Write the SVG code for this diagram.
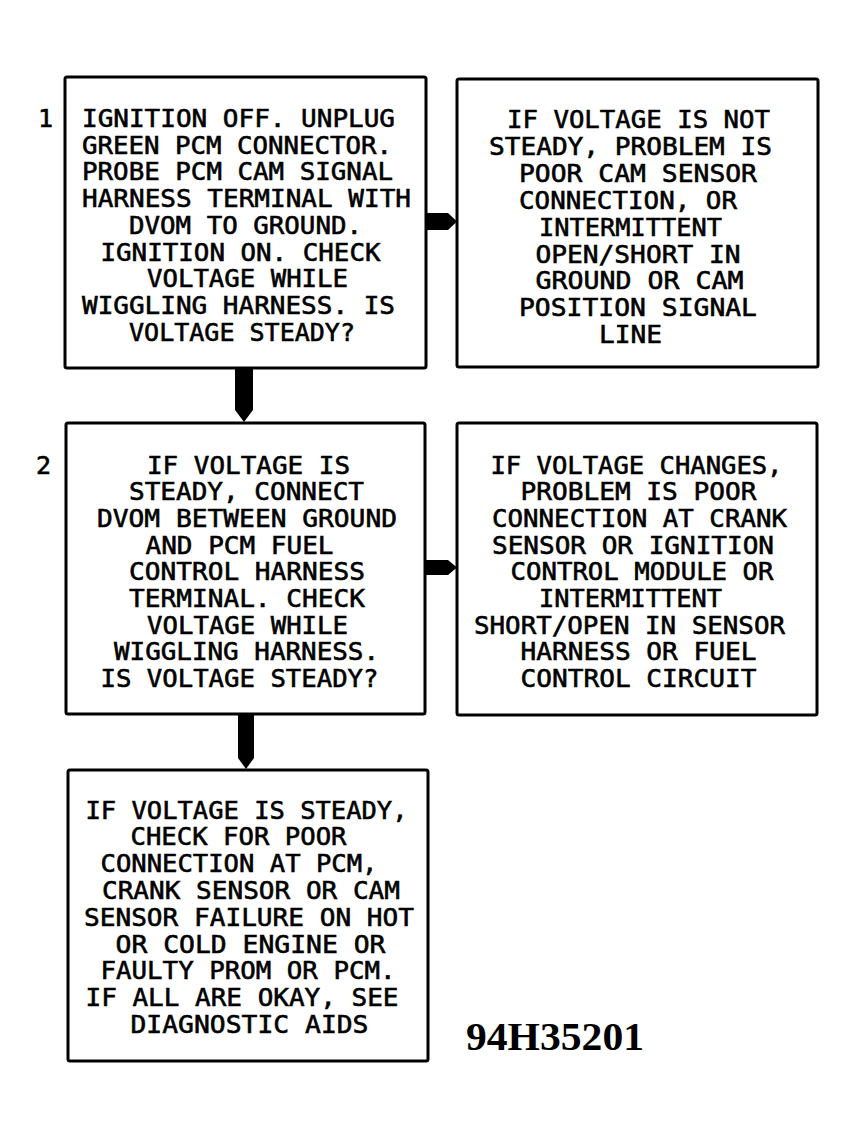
<svg xmlns="http://www.w3.org/2000/svg" width="857" height="1138" viewBox="0 0 857 1138">
<style>
.box{fill:#fff;stroke:#000;stroke-width:3}
.t{font-family:"DejaVu Sans Mono","Liberation Mono",monospace;font-size:25px;fill:#000;stroke:#000;stroke-width:0.6}
.n{font-family:"DejaVu Sans Mono","Liberation Mono",monospace;font-size:25px;fill:#000;stroke:#000;stroke-width:0.6}
.code{font-family:"Liberation Serif","Times New Roman",serif;font-weight:bold;font-size:40px;fill:#000}
.arr{fill:#000;stroke:none}
</style>
<rect width="857" height="1138" fill="#fff"/>
<g id="connectors">
<path class="arr" d="M425,213 H448 L457,221.5 L448,230 H425 Z"/>
<path class="arr" d="M425,560 H448 L457,567.5 L448,575 H425 Z"/>
<path class="arr" d="M235,368 V410 L244,422 L253,410 V368 Z"/>
<path class="arr" d="M238,714 V758 L246,769 L254,758 V714 Z"/>
</g>
<g id="node1">
<rect class="box" x="65" y="77" width="361" height="291" rx="2"/>
<text class="n" x="38" y="127">1</text>
<text class="t" x="82" y="127" textLength="313" lengthAdjust="spacingAndGlyphs">IGNITION OFF. UNPLUG</text>
<text class="t" x="82" y="153.7" textLength="310" lengthAdjust="spacingAndGlyphs">GREEN PCM CONNECTOR.</text>
<text class="t" x="82" y="180.4" textLength="311" lengthAdjust="spacingAndGlyphs">PROBE PCM CAM SIGNAL</text>
<text class="t" x="82" y="207.1" textLength="329" lengthAdjust="spacingAndGlyphs">HARNESS TERMINAL WITH</text>
<text class="t" x="129" y="233.8" textLength="233" lengthAdjust="spacingAndGlyphs">DVOM TO GROUND.</text>
<text class="t" x="100.5" y="260.5" textLength="280" lengthAdjust="spacingAndGlyphs">IGNITION ON. CHECK</text>
<text class="t" x="147" y="287.2" textLength="201" lengthAdjust="spacingAndGlyphs">VOLTAGE WHILE</text>
<text class="t" x="82" y="313.9" textLength="313" lengthAdjust="spacingAndGlyphs">WIGGLING HARNESS. IS</text>
<text class="t" x="129" y="340.6" textLength="226" lengthAdjust="spacingAndGlyphs">VOLTAGE STEADY?</text>
</g>
<g id="node2">
<rect class="box" x="457" y="79" width="361" height="288" rx="2"/>
<text class="t" x="507" y="128" textLength="263" lengthAdjust="spacingAndGlyphs">IF VOLTAGE IS NOT</text>
<text class="t" x="489" y="154.9" textLength="283" lengthAdjust="spacingAndGlyphs">STEADY, PROBLEM IS</text>
<text class="t" x="519" y="181.8" textLength="238" lengthAdjust="spacingAndGlyphs">POOR CAM SENSOR</text>
<text class="t" x="519" y="208.7" textLength="218" lengthAdjust="spacingAndGlyphs">CONNECTION, OR</text>
<text class="t" x="539" y="235.6" textLength="183" lengthAdjust="spacingAndGlyphs">INTERMITTENT</text>
<text class="t" x="535.5" y="262.5" textLength="205" lengthAdjust="spacingAndGlyphs">OPEN/SHORT IN</text>
<text class="t" x="535.5" y="289.4" textLength="208" lengthAdjust="spacingAndGlyphs">GROUND OR CAM</text>
<text class="t" x="519" y="316.3" textLength="238" lengthAdjust="spacingAndGlyphs">POSITION SIGNAL</text>
<text class="t" x="599" y="343.2" textLength="63" lengthAdjust="spacingAndGlyphs">LINE</text>
</g>
<g id="node3">
<rect class="box" x="66" y="423" width="359" height="291" rx="2"/>
<text class="n" x="36" y="474">2</text>
<text class="t" x="147" y="473.5" textLength="203" lengthAdjust="spacingAndGlyphs">IF VOLTAGE IS</text>
<text class="t" x="129" y="500.2" textLength="235" lengthAdjust="spacingAndGlyphs">STEADY, CONNECT</text>
<text class="t" x="97" y="526.9" textLength="300" lengthAdjust="spacingAndGlyphs">DVOM BETWEEN GROUND</text>
<text class="t" x="145.5" y="553.6" textLength="188" lengthAdjust="spacingAndGlyphs">AND PCM FUEL</text>
<text class="t" x="129" y="580.3" textLength="236" lengthAdjust="spacingAndGlyphs">CONTROL HARNESS</text>
<text class="t" x="129" y="607" textLength="236" lengthAdjust="spacingAndGlyphs">TERMINAL. CHECK</text>
<text class="t" x="147" y="633.7" textLength="201" lengthAdjust="spacingAndGlyphs">VOLTAGE WHILE</text>
<text class="t" x="114" y="660.4" textLength="265" lengthAdjust="spacingAndGlyphs">WIGGLING HARNESS.</text>
<text class="t" x="100.5" y="687.1" textLength="278" lengthAdjust="spacingAndGlyphs">IS VOLTAGE STEADY?</text>
</g>
<g id="node4">
<rect class="box" x="457" y="423" width="360" height="292" rx="2"/>
<text class="t" x="490.5" y="473.5" textLength="292" lengthAdjust="spacingAndGlyphs">IF VOLTAGE CHANGES,</text>
<text class="t" x="520.5" y="500.2" textLength="236" lengthAdjust="spacingAndGlyphs">PROBLEM IS POOR</text>
<text class="t" x="492" y="526.9" textLength="295" lengthAdjust="spacingAndGlyphs">CONNECTION AT CRANK</text>
<text class="t" x="492" y="553.6" textLength="282" lengthAdjust="spacingAndGlyphs">SENSOR OR IGNITION</text>
<text class="t" x="510.5" y="580.3" textLength="263" lengthAdjust="spacingAndGlyphs">CONTROL MODULE OR</text>
<text class="t" x="539" y="607" textLength="183" lengthAdjust="spacingAndGlyphs">INTERMITTENT</text>
<text class="t" x="474" y="633.7" textLength="311" lengthAdjust="spacingAndGlyphs">SHORT/OPEN IN SENSOR</text>
<text class="t" x="520.5" y="660.4" textLength="236" lengthAdjust="spacingAndGlyphs">HARNESS OR FUEL</text>
<text class="t" x="520.5" y="687.1" textLength="236" lengthAdjust="spacingAndGlyphs">CONTROL CIRCUIT</text>
</g>
<g id="node5">
<rect class="box" x="68" y="770" width="360" height="291" rx="2"/>
<text class="t" x="85.5" y="818.5" textLength="322" lengthAdjust="spacingAndGlyphs">IF VOLTAGE IS STEADY,</text>
<text class="t" x="130.5" y="845.3" textLength="216" lengthAdjust="spacingAndGlyphs">CHECK FOR POOR</text>
<text class="t" x="100.5" y="872.1" textLength="277" lengthAdjust="spacingAndGlyphs">CONNECTION AT PCM,</text>
<text class="t" x="102" y="898.9" textLength="298" lengthAdjust="spacingAndGlyphs">CRANK SENSOR OR CAM</text>
<text class="t" x="84" y="925.7" textLength="330" lengthAdjust="spacingAndGlyphs">SENSOR FAILURE ON HOT</text>
<text class="t" x="115.5" y="952.5" textLength="270" lengthAdjust="spacingAndGlyphs">OR COLD ENGINE OR</text>
<text class="t" x="100.5" y="979.3" textLength="295" lengthAdjust="spacingAndGlyphs">FAULTY PROM OR PCM.</text>
<text class="t" x="85.5" y="1006.1" textLength="313" lengthAdjust="spacingAndGlyphs">IF ALL ARE OKAY, SEE</text>
<text class="t" x="130.5" y="1032.9" textLength="238" lengthAdjust="spacingAndGlyphs">DIAGNOSTIC AIDS</text>
</g>
<text class="code" x="466" y="1050" textLength="178" lengthAdjust="spacingAndGlyphs">94H35201</text>
</svg>
